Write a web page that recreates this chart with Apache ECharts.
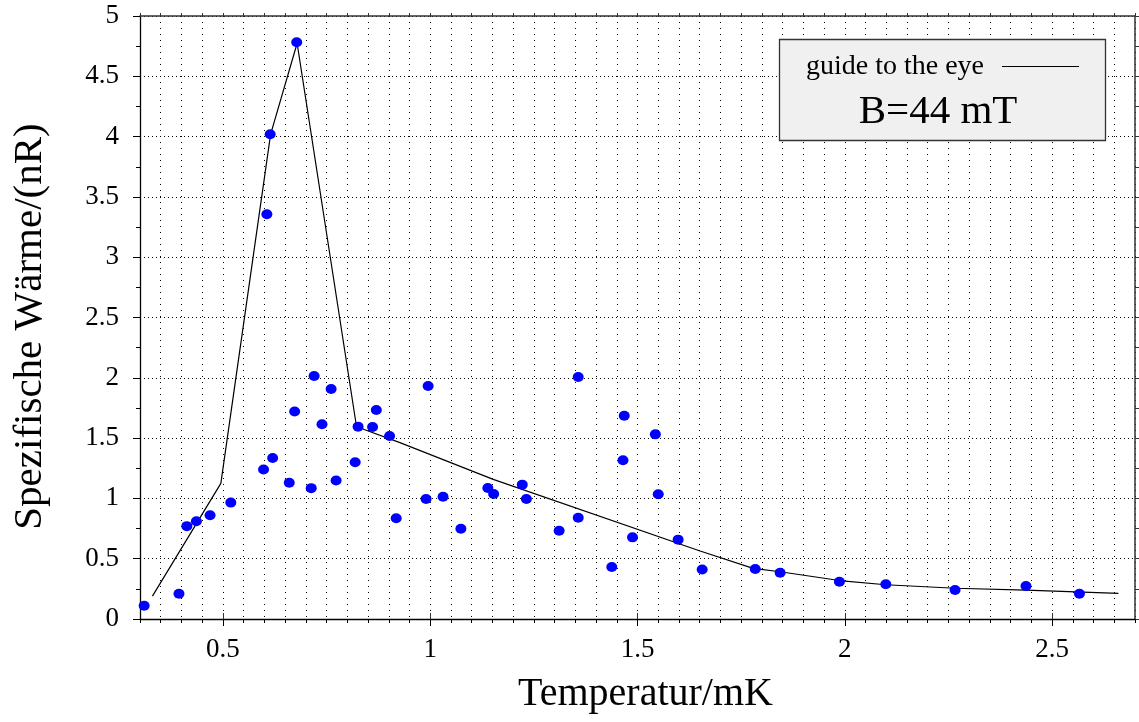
<!DOCTYPE html>
<html>
<head>
<meta charset="utf-8">
<script src="https://cdn.jsdelivr.net/npm/echarts@6/dist/echarts.min.js"></script>
<style>html,body{margin:0;padding:0;background:#fff}#c{width:1139px;height:722px}</style>
</head>
<body>
<div id="c"></div>
<script>
// measured data: temperature (mK) and specific heat (nR)
var tempData = [0.31,0.394,0.413,0.436,0.469,0.519,0.598,0.62,0.66,0.713,0.773,0.819,0.673,0.739,0.826,0.861,0.87,0.902,0.918,0.99,1.031,0.72,0.761,0.606,0.614,0.678,0.995,1.357,1.468,1.543,1.465,1.55,1.074,1.139,1.153,1.222,1.232,1.311,1.357,1.488,1.598,1.438,1.656,1.784,1.844,1.987,2.099,2.266,2.437,2.566];
var heatData = [0.11,0.21,0.77,0.81,0.86,0.965,1.24,1.335,1.13,1.085,1.148,1.30,1.72,1.615,1.595,1.592,1.733,1.517,0.835,0.995,1.014,2.015,1.907,3.356,4.02,4.782,1.932,2.007,1.686,1.531,1.316,1.034,0.749,1.086,1.036,1.114,0.995,0.732,0.84,0.677,0.658,0.431,0.41,0.415,0.384,0.309,0.288,0.240,0.274,0.21];
// guide to the eye
var guideX = [0.33,0.495,0.615,0.679,0.821,0.839,0.927,1.152,1.651,1.779,1.844,1.987,2.099,2.266,2.437,2.66];
var guideY = [0.19,1.125,4.019,4.774,1.623,1.573,1.462,1.158,0.564,0.42,0.392,0.319,0.284,0.255,0.24,0.213];
var xMajorTicks = [0.5,1,1.5,2,2.5];
var xTitle = 'Temperatur/mK';
var yTitle = 'Spezifische Wärme/(nR)';
var legendLabel = 'guide to the eye';
var fieldLabel = 'B=44 mT';

var FONT = '"Liberation Serif", "DejaVu Serif", serif';
var pts = tempData.map(function(t,i){return [t, heatData[i]];});
var guide = guideX.map(function(t,i){return [t, guideY[i]];});

function isMajor(v){ return Math.abs(v*2 - Math.round(v*2)) < 1e-6; }

var chart = echarts.init(document.getElementById('c'), null, {renderer:'canvas'});
var xBase = {type:'value', min:0.3, max:2.7, interval:0.05};
var yBase = {type:'value', min:0, max:5};
chart.setOption({
  animation:false,
  backgroundColor:'#fff',
  grid:{left:140, right:4, top:16, bottom:103, containLabel:false},
  xAxis:[
    Object.assign({}, xBase, {
      position:'bottom',
      name:xTitle, nameLocation:'middle', nameGap:55,
      nameTextStyle:{fontFamily:FONT, fontSize:40, color:'#000', padding:[0,0,0,16]},
      axisLine:{show:true, onZero:false, lineStyle:{color:'#000', width:1.3}},
      axisTick:{show:true, length:4, lineStyle:{color:'#000'}},
      axisLabel:{show:true, margin:17, fontFamily:FONT, fontSize:27, color:'#000',
        formatter:function(v){ return isMajor(v) ? String(+v.toFixed(2)) : ''; }},
      splitLine:{show:true, lineStyle:{color:'#000', type:[1,5], width:1}}
    }),
    Object.assign({}, xBase, {
      position:'bottom',
      axisLine:{show:false},
      axisTick:{show:true, length:7, customValues:xMajorTicks, lineStyle:{color:'#000'}},
      axisLabel:{show:false}, splitLine:{show:false}
    }),
    Object.assign({}, xBase, {
      position:'top',
      axisLine:{show:true, onZero:false, lineStyle:{color:'#333', width:1.5}},
      axisTick:{show:true, length:3, lineStyle:{color:'#333'}},
      axisLabel:{show:false}, splitLine:{show:false}
    }),
    Object.assign({}, xBase, {
      position:'top',
      axisLine:{show:false},
      axisTick:{show:true, length:6, customValues:xMajorTicks, lineStyle:{color:'#333'}},
      axisLabel:{show:false}, splitLine:{show:false}
    })
  ],
  yAxis:[
    Object.assign({}, yBase, {
      position:'left', interval:0.5,
      name:yTitle, nameLocation:'middle', nameGap:89, nameRotate:90,
      nameTextStyle:{fontFamily:FONT, fontSize:41, color:'#000', padding:[0,18,0,0]},
      axisLine:{show:true, onZero:false, lineStyle:{color:'#000', width:1.3}},
      axisTick:{show:true, length:7, lineStyle:{color:'#000'}},
      axisLabel:{show:true, margin:21, fontFamily:FONT, fontSize:27, color:'#000'},
      splitLine:{show:true, lineStyle:{color:'#000', type:[1,3], width:1}}
    }),
    Object.assign({}, yBase, {
      position:'left', interval:0.25,
      axisLine:{show:false},
      axisTick:{show:true, length:4, lineStyle:{color:'#000'}},
      axisLabel:{show:false}, splitLine:{show:false}
    }),
    Object.assign({}, yBase, {
      position:'right', interval:0.25,
      axisLine:{show:true, onZero:false, lineStyle:{color:'#333', width:1.5}},
      axisTick:{show:true, length:4, lineStyle:{color:'#333'}},
      axisLabel:{show:false}, splitLine:{show:false}
    })
  ],
  series:[
    {type:'line', xAxisIndex:0, yAxisIndex:0, data:guide, showSymbol:false, symbol:'none',
     lineStyle:{color:'#000', width:1.2}, z:3},
    {type:'scatter', xAxisIndex:0, yAxisIndex:0, data:pts, symbol:'circle', symbolSize:[11,10],
     itemStyle:{color:'#0000ff', opacity:1}, z:4}
  ],
  graphic:[
    {type:'rect', shape:{x:779.5, y:39.5, width:326, height:101}, style:{fill:'#f0f0f0', stroke:'#333', lineWidth:1.3}, z:10},
    {type:'text', x:806, y:67, style:{text:legendLabel, fontFamily:FONT, fontSize:28, fill:'#000', verticalAlign:'middle', align:'left'}, z:11},
    {type:'line', shape:{x1:1002, y1:66.5, x2:1079, y2:66.5}, style:{stroke:'#000', lineWidth:1.2}, z:11},
    {type:'text', x:938, y:112, style:{text:fieldLabel, fontFamily:FONT, fontSize:41, fill:'#000', verticalAlign:'middle', align:'center'}, z:11}
  ]
});
</script>
</body>
</html>
